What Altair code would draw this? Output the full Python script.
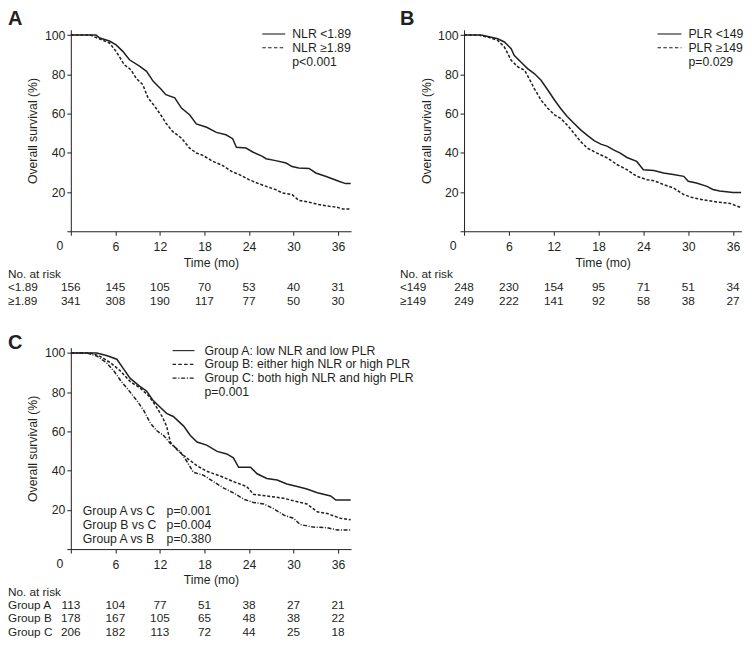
import altair as alt
import pandas as pd

FONT = "Liberation Sans"
INK = "#231f20"
FS = 12.3      # axis / legend text
FS_T = 11.8    # risk table text

tick_months = [0, 6, 12, 18, 24, 30, 36]
y_ticks = [0, 20, 40, 60, 80, 100]

# ---------------- Panel A (NLR) ----------------
a_low_t = [0, 3.4, 3.9, 5.2, 6.1, 7.0, 7.9, 9.3, 10.2, 11.1, 12.1, 12.8, 14.0, 14.9, 16.0, 16.9, 18.3, 19.6, 20.9, 21.8,
           22.3, 23.6, 24.5, 25.8, 26.3, 27.6, 29.0, 29.8, 30.7, 32.1, 33.0, 34.3, 35.2, 36.1, 37.0, 37.7]
a_low_s = [100, 100, 98.5, 97, 95, 91.7, 87.4, 84, 81.5, 76.4, 72.7, 69.6, 68, 62.8, 59.4, 54.7, 53, 50.4, 49.2, 47.2,
           42.8, 42.4, 40.4, 38.2, 37, 36, 34.8, 33, 32.3, 32, 29.7, 28, 26.8, 25.5, 24.3, 24.3]
a_high_t = [0, 2.6, 3.9, 5.2, 6.1, 7.2, 8.1, 8.8, 9.7, 10.4, 11.3, 12.1, 12.8, 13.7, 14.9, 16.0, 16.9, 17.8, 19.1, 20.4,
            21.8, 22.7, 24.0, 25.4, 26.7, 27.6, 28.5, 29.8, 30.7, 32.1, 33.4, 34.8, 35.7, 36.6, 37.7]
a_high_s = [100, 100, 98, 96, 91.7, 84.9, 82.3, 78, 74.7, 68, 63.7, 59.4, 55.2, 50.9, 47.5, 42.4, 39.9, 38.7, 35.7, 33.6,
            30.2, 28.9, 26.3, 24.1, 22.4, 21.2, 19.5, 18.7, 15.8, 14.8, 13.6, 12.7, 12.4, 11.4, 11.4]
a_legend = ["NLR <1.89", "NLR \u22651.89"]
a_p = "p<0.001"
a_risk_names = ["<1.89", "\u22651.89"]
a_risk_low = [156, 145, 105, 70, 53, 40, 31]
a_risk_high = [341, 308, 190, 117, 77, 50, 30]

# ---------------- Panel B (PLR) ----------------
b_low_t = [0, 2.3, 3.2, 4.5, 5.4, 6.3, 6.7, 7.6, 8.5, 9.4, 10.3, 11.2, 12.1, 12.9, 13.8, 14.7, 15.6, 16.5, 17.4, 18.3,
           19.2, 20.0, 20.9, 21.8, 23.1, 24.0, 25.4, 26.7, 28.0, 29.4, 30.0, 31.1, 32.5, 33.3, 34.2, 36.0, 37.1]
b_low_s = [100, 100, 99.3, 98.1, 96.5, 93.1, 89.7, 86.3, 82.9, 80.4, 77, 72, 66.9, 62.7, 58.5, 55.1, 51.7, 48.9, 46.2, 44.4,
           43.3, 41.5, 39.8, 37.6, 35.6, 31.4, 31, 29.7, 28.9, 28, 25.5, 24.6, 22.9, 21.3, 20.5, 19.7, 19.7]
b_high_t = [0, 1.9, 3.2, 4.5, 5.4, 6.3, 7.2, 8.1, 8.7, 9.4, 10.3, 11.2, 12.1, 12.9, 13.8, 14.7, 15.6, 16.5, 17.8, 19.2,
            20.5, 21.8, 23.1, 24.5, 25.4, 26.7, 28.0, 29.4, 30.7, 32.0, 33.8, 35.6, 36.5, 37.1]
b_high_s = [100, 100, 99, 97.3, 93.9, 87.2, 83.8, 82.1, 77.9, 72.7, 66.9, 62.7, 59.3, 57.6, 54.2, 50, 45.7, 42.4, 39.8, 37.3,
            33.9, 31.4, 28, 26.3, 25.8, 23.8, 22.1, 18.7, 17, 16, 14.9, 14.2, 12.8, 12]
b_legend = ["PLR <149", "PLR \u2265149"]
b_p = "p=0.029"
b_risk_names = ["<149", "\u2265149"]
b_risk_low = [248, 230, 154, 95, 71, 51, 34]
b_risk_high = [249, 222, 141, 92, 58, 38, 27]

# ---------------- Panel C (groups) ----------------
c_a_t = [0, 3.5, 4.8, 6.2, 7.1, 8.0, 9.3, 10.2, 11.1, 12.0, 12.9, 13.8, 15.2, 16.1, 17.0, 18.3, 19.7, 21.0, 21.9, 22.6,
         24.2, 25.1, 26.4, 27.8, 29.1, 30.5, 31.8, 33.2, 35.0, 35.7, 37.7]
c_a_s = [100, 100, 98.7, 96.8, 91.9, 87, 83, 80.6, 75.7, 72.4, 69.2, 67.6, 62.7, 57.9, 54.6, 53, 49.8, 48.5, 46.5, 41.7,
         41.7, 38.4, 36, 35.2, 33.2, 31.9, 30.6, 28.7, 27.1, 25, 25]
c_b_t = [0, 2.6, 3.9, 5.3, 6.6, 8.0, 9.3, 10.5, 11.4, 12.3, 12.9, 13.4, 14.3, 15.6, 17.0, 18.3, 20.1, 21.9, 23.7, 24.6,
         26.4, 28.7, 30.0, 31.8, 33.2, 34.5, 36.3, 37.7]
c_b_s = [100, 100, 98.4, 95.1, 91.1, 85.4, 82.2, 78.1, 73.3, 67.6, 62.7, 54.6, 50.6, 46.5, 42.5, 39.7, 37.3, 34.4, 31.9, 27.9,
         27.1, 25.9, 24.6, 23, 19, 18.2, 15.7, 14.9]
c_c_t = [0, 2.1, 3.5, 4.8, 5.9, 6.8, 7.7, 8.9, 9.8, 10.7, 11.6, 12.5, 13.4, 14.7, 15.6, 16.5, 17.9, 19.2, 20.6, 21.9,
         23.3, 24.6, 26.0, 27.3, 28.7, 30.0, 30.9, 32.7, 34.5, 35.9, 37.7]
c_c_s = [100, 100, 98.4, 95.1, 90.3, 85.4, 81.4, 75.7, 70.8, 64.3, 60.3, 57.9, 53.8, 49.8, 44.9, 39.2, 37.6, 34.4, 31.1, 28.7,
         25.4, 23.8, 23, 20.6, 17.3, 15.7, 12.5, 11.2, 10.9, 9.7, 9.7]
c_legend = ["Group A: low NLR and low PLR", "Group B: either high NLR or high PLR",
            "Group C: both high NLR and high PLR"]
c_p = "p=0.001"
c_pairs = ["Group A vs C", "Group B vs C", "Group A vs B"]
c_pair_p = ["p=0.001", "p=0.004", "p=0.380"]
c_risk_names = ["Group A", "Group B", "Group C"]
c_risk_a = [113, 104, 77, 51, 38, 27, 21]
c_risk_b = [178, 167, 105, 65, 48, 38, 22]
c_risk_c = [206, 182, 113, 72, 44, 25, 18]

# ---------------- helpers ----------------
H = 202
YMAX = 102.7
SOLID = None
DASH = [3, 1.8]
DASHDOT = [4, 1.6, 1, 1.6]
LEG_DASH = [3.5, 2.3]
LEG_DASHDOT = [4, 1.7, 1.2, 1.7]
ROW = 13.3


def txt(s, x, y, align="left", baseline="middle", size=FS, weight="normal"):
    return alt.Chart(pd.DataFrame({"label": [s]})).mark_text(
        align=align, baseline=baseline, font=FONT, fontSize=size, fontWeight=weight, color=INK
    ).encode(x=alt.value(x), y=alt.value(y), text="label:N")


def seg(x1, x2, y, dash):
    kw = dict(color=INK, strokeWidth=1.1)
    if dash is not None:
        kw["strokeDash"] = dash
    return alt.Chart(pd.DataFrame({"k": [0]})).mark_rule(**kw).encode(
        x=alt.value(x1), x2=alt.value(x2), y=alt.value(y))


def panel(width, xmax, curves, risk_names, risk_rows, letter, letter_x, letter_y,
          leg_x1, leg_x2, leg_tx, leg_rows_y, leg_names, leg_dashes, p_text, p_y, extras=()):
    xs = alt.Scale(domain=[0, xmax], nice=False, zero=False)
    ys = alt.Scale(domain=[0, YMAX], nice=False)
    xa = alt.Axis(values=tick_months, labelExpr="datum.value == 0 ? '' : datum.label",
                  title="Time (mo)", titleY=31, titleBaseline="middle", labelPadding=5,
                  labelFlush=False)
    ya = alt.Axis(values=y_ticks, labelExpr="datum.value == 0 ? '' : datum.label",
                  title="Overall survival (%)", titleX=-38, titleY=H / 2, titleAngle=-90,
                  titleBaseline="middle", titleAlign="center", labelPadding=2)
    layers = []
    for (t, s, dash) in curves:
        kw = dict(color=INK, strokeWidth=1.5, clip=True)
        if dash is not None:
            kw["strokeDash"] = dash
        layers.append(alt.Chart(pd.DataFrame({"t": t, "s": s})).mark_line(**kw).encode(
            x=alt.X("t:Q", scale=xs, axis=xa), y=alt.Y("s:Q", scale=ys, axis=ya)))
    # origin "0"
    layers.append(txt("0", -11, H + 15, align="center"))
    # number at risk table
    lx = -63 if letter_x > -64 else letter_x
    layers.append(txt("No. at risk", lx, H + 43, size=FS_T))
    for i, (name, counts) in enumerate(zip(risk_names, risk_rows)):
        yy = H + 43 + ROW * (i + 1)
        layers.append(txt(name, lx, yy, size=FS_T))
        df = pd.DataFrame({"t": tick_months, "n": [str(c) for c in counts]})
        layers.append(alt.Chart(df).mark_text(
            align="center", baseline="middle", font=FONT, fontSize=FS_T, color=INK
        ).encode(x=alt.X("t:Q", scale=xs, axis=xa), y=alt.value(yy), text="n:N"))
    # legend
    for yy, name, dash in zip(leg_rows_y, leg_names, leg_dashes):
        layers.append(seg(leg_x1, leg_x2, yy, dash))
        layers.append(txt(name, leg_tx, yy))
    layers.append(txt(p_text, leg_tx, p_y))
    # panel letter
    layers.append(txt(letter, letter_x, letter_y, baseline="alphabetic", size=20, weight="bold"))
    layers.extend(extras)
    return alt.layer(*layers).properties(width=width, height=H)


pA = panel(281, 37.75,
           [(a_low_t, a_low_s, SOLID), (a_high_t, a_high_s, DASH)],
           a_risk_names, [a_risk_low, a_risk_high], "A", -63, -4.5,
           192, 215, 222, [4.2, 18.0], a_legend, [SOLID, LEG_DASH], a_p, 32)

pB = panel(278, 37.1,
           [(b_low_t, b_low_s, SOLID), (b_high_t, b_high_s, DASH)],
           b_risk_names, [b_risk_low, b_risk_high], "B", -64.3, -4.5,
           194, 218, 225, [4.2, 18.0], b_legend, [SOLID, LEG_DASH], b_p, 32)

pair_layers = []
for i, (lab, pv) in enumerate(zip(c_pairs, c_pair_p)):
    pair_layers.append(txt(lab, 12, 164 + 13.8 * i))
    pair_layers.append(txt(pv, 96, 164 + 13.8 * i))

pC = panel(281, 37.75,
           [(c_a_t, c_a_s, SOLID), (c_b_t, c_b_s, DASH), (c_c_t, c_c_s, DASHDOT)],
           c_risk_names, [c_risk_a, c_risk_b, c_risk_c], "C", -63, 1.5,
           102, 124, 134, [3.0, 16.8, 30.6], c_legend, [SOLID, LEG_DASH, LEG_DASHDOT], c_p, 44.5,
           extras=pair_layers)

chart = alt.concat(
    pA, pB, pC, columns=2,
    spacing={"row": 116.7, "column": 113.3},
    bounds="flush",
).properties(
    padding=0
).configure_view(
    stroke=None
).configure_axis(
    domainColor=INK, tickColor=INK, labelColor=INK, titleColor=INK,
    labelFont=FONT, titleFont=FONT, labelFontSize=FS, titleFontSize=FS,
    titleFontWeight="normal", grid=False, tickSize=4, domainWidth=1, tickWidth=1,
)

chart.save("out.html", embed_options={"renderer": "svg", "actions": False})
